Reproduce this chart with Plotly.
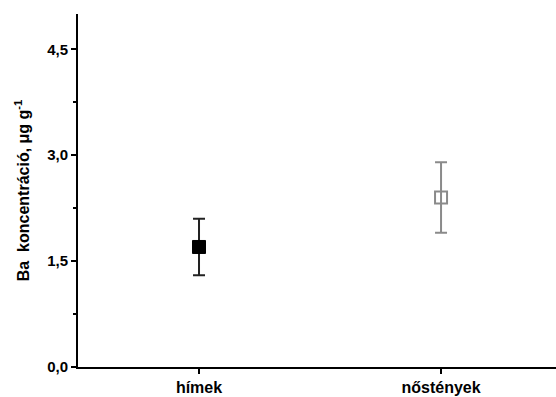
import plotly.graph_objects as go

categories = ["hímek", "nőstények"]
x_pos = [1, 2]
means = [1.7, 2.4]
errors = [0.4, 0.5]
y_tick_vals = [0, 1.5, 3.0, 4.5]
y_tick_text = ["0,0", "1,5", "3,0", "4,5"]

fig = go.Figure()
fig.add_trace(go.Scatter(
    x=[x_pos[0]], y=[means[0]], mode="markers",
    marker=dict(symbol="square", size=13, color="black", line=dict(color="black", width=1)),
    error_y=dict(type="data", array=[errors[0]], color="#222222", thickness=2, width=6),
    showlegend=False,
))
fig.add_trace(go.Scatter(
    x=[x_pos[1]], y=[means[1]], mode="markers",
    marker=dict(symbol="square-open", size=12, color="#8a8a8a", line=dict(color="#8a8a8a", width=2)),
    error_y=dict(type="data", array=[errors[1]], color="#8a8a8a", thickness=2, width=6),
    showlegend=False,
))

fig.update_layout(
    width=556, height=397,
    margin=dict(l=78, r=0, t=14, b=30),
    plot_bgcolor="white", paper_bgcolor="white",
    font=dict(family="Liberation Sans, Arial, sans-serif", color="black"),
    separators=", ",
)
fig.update_xaxes(
    range=[0.5, 2.475], tickvals=x_pos, ticktext=categories,
    showline=True, linecolor="black", linewidth=2, mirror=False,
    ticks="outside", ticklen=5, tickwidth=2, tickcolor="black",
    showgrid=False, zeroline=False,
    tickfont=dict(size=16, weight="bold", color="black"),
)
fig.update_yaxes(
    range=[0, 5], tickvals=y_tick_vals, ticktext=y_tick_text,
    showline=True, linecolor="black", linewidth=2,
    ticks="outside", ticklen=5, tickwidth=2, tickcolor="black",
    minor=dict(tickvals=[0.75, 2.25, 3.75], ticks="outside", ticklen=3, tickwidth=2, tickcolor="black"),
    showgrid=False, zeroline=False,
    tickfont=dict(size=15, weight="bold", color="black"),
    title=dict(text="Ba  koncentráció, μg g<sup>-1</sup>", font=dict(size=16, weight="bold", color="black"), standoff=14),
)

fig.write_html("out.html")
